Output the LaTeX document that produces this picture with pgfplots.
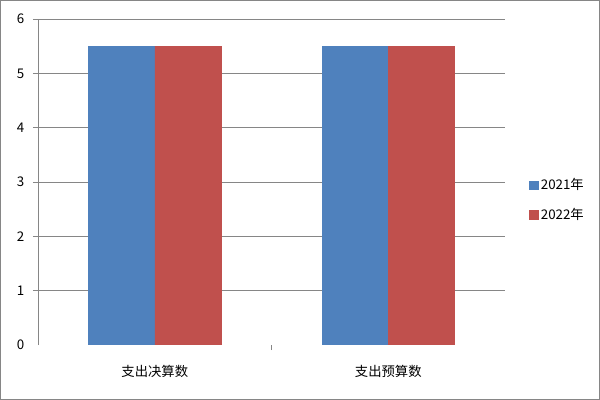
\documentclass[border=0pt]{standalone}
\usepackage{pgfplots}
\pgfplotsset{compat=1.18}
\usepackage{fontspec}
\setmainfont{Noto Sans CJK SC}
\definecolor{bblue}{HTML}{4F81BD}
\definecolor{bred}{HTML}{C0504D}
\definecolor{lgray}{HTML}{868686}
\begin{document}
\begin{tikzpicture}
\useasboundingbox (0pt,0pt) rectangle (450pt,300pt);
\draw[lgray, line width=0.75pt] (0.375pt,0.375pt) rectangle (449.625pt,299.625pt);
\begin{axis}[
    at={(28.5pt,41.25pt)}, anchor=south west,
    scale only axis,
    width=350.25pt, height=244.5pt,
    font=\fontsize{10}{12}\selectfont,
    /pgf/number format/assume math mode=true,
    ybar=0pt, bar width=0.283,
    xmin=-0.5, xmax=1.5,
    ymin=0, ymax=6,
    axis y line*=left, axis x line*=bottom,
    x axis line style={draw=none},
    y axis line style={lgray, line width=0.75pt},
    xtick={0.5},
    xticklabels={},
    extra x ticks={0,1},
    extra x tick labels={支出决算数, 支出预算数},
    extra x tick style={major tick length=0pt, tick style={draw=none},
        xticklabel style={yshift=-12pt}},
    ytick={1,2,3,4,5,6},
    extra y ticks={0},
    extra y tick style={grid=none, tick style={draw=none}},
    yticklabel style={xshift=-3pt},
    ymajorgrids,
    grid style={lgray, line width=0.75pt},
    tick style={lgray, line width=0.75pt},
    tick align=outside,
    major tick length=3.75pt,
    legend style={draw=none, at={(1,0.445)}, anchor=west, xshift=15pt,
        row sep=8pt, font=\fontsize{10}{12}\selectfont},
    legend cell align=left,
    legend image code/.code={\fill[#1] (0pt,-3.2pt) rectangle (6.4pt,3.2pt);},
]
\addplot[fill=bblue, draw=bblue, line width=0.3pt, bar shift=-0.1415] coordinates {(0,5.5) (1,5.5)};
\addplot[fill=bred, draw=bred, line width=0.3pt, bar shift=0.1415] coordinates {(0,5.5) (1,5.5)};
\legend{2021年, 2022年}
\end{axis}
\end{tikzpicture}
\end{document}
